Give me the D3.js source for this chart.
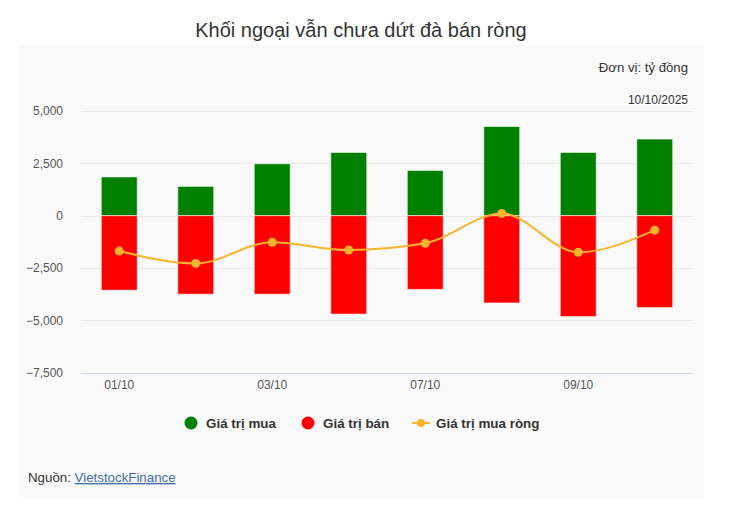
<!DOCTYPE html>
<html>
<head>
<meta charset="utf-8">
<script src="https://cdn.jsdelivr.net/npm/d3@7"></script>
<style>
  html, body { margin: 0; padding: 0; background: #ffffff; }
  svg { display: block; font-family: "Liberation Sans", Arial, sans-serif; }
</style>
</head>
<body>
<svg id="chart" width="743" height="511"></svg>
<script>
// ---- data ----
const categories = ["01/10", "02/10", "03/10", "06/10", "07/10", "08/10", "09/10", "10/10"];
const buyValues  = [1850, 1400, 2480, 3020, 2160, 4260, 3020, 3660];
const sellValues = [-3560, -3750, -3750, -4700, -3520, -4170, -4820, -4390];
const netValues  = [-1690, -2280, -1270, -1640, -1320, 110, -1750, -690];
const yTicks     = [5000, 2500, 0, -2500, -5000, -7500];
const xTickLabels = ["01/10", "03/10", "07/10", "09/10"];
const seriesNames = ["Giá trị mua", "Giá trị bán", "Giá trị mua ròng"];

const colors = { buy: "#008000", sell: "#ff0000", net: "#f7b52c" };

const svg = d3.select("#chart");

// panel background
svg.append("rect").attr("x", 18).attr("y", 45).attr("width", 686).attr("height", 452).attr("fill", "#f9f9f9");

// title
svg.append("text").attr("x", 361).attr("y", 37).attr("text-anchor", "middle")
  .attr("font-size", 20).attr("fill", "#333").text("Khối ngoại vẫn chưa dứt đà bán ròng");

svg.append("text").attr("x", 688).attr("y", 72).attr("text-anchor", "end")
  .attr("font-size", 13.2).attr("fill", "#333").text("Đơn vị: tỷ đồng");
svg.append("text").attr("x", 688).attr("y", 104).attr("text-anchor", "end")
  .attr("font-size", 12).attr("fill", "#333").text("10/10/2025");

const left = 81, right = 693;
const x = d3.scaleBand().domain(categories).range([left, right]).paddingInner(0.53).paddingOuter(0.265);
const y = d3.scaleLinear().domain([-7500, 5000]).range([372.7, 111]);

// grid
svg.append("g").selectAll("line").data(yTicks).join("line")
  .attr("x1", left).attr("x2", right)
  .attr("y1", d => Math.round(y(d)) + 0.5).attr("y2", d => Math.round(y(d)) + 0.5)
  .attr("stroke", d => d === -7500 ? "#ccd6eb" : "#e6e6e6").attr("stroke-width", 1);

// y axis labels
const yAxis = d3.axisLeft(y).tickValues(yTicks).tickSize(0).tickPadding(0).tickFormat(d3.format(","));
const yg = svg.append("g").attr("transform", `translate(63,0)`).call(yAxis);
yg.select(".domain").remove();
yg.selectAll("text").attr("font-size", 12).attr("fill", "#555").attr("font-family", "Liberation Sans, Arial, sans-serif");

// x axis labels
const xAxis = d3.axisBottom(x).tickValues(categories.filter(c => xTickLabels.includes(c))).tickSize(0).tickPadding(0);
const xg = svg.append("g").attr("transform", `translate(0,380)`).call(xAxis);
xg.select(".domain").remove();
xg.selectAll("text").attr("font-size", 12).attr("fill", "#555").attr("dy", "0.71em").attr("font-family", "Liberation Sans, Arial, sans-serif");

// bars
const bw = x.bandwidth();
svg.append("g").selectAll("rect").data(categories).join("rect")
  .attr("x", d => x(d)).attr("width", bw)
  .attr("y", (d, i) => y(buyValues[i])).attr("height", (d, i) => y(0) - y(buyValues[i]))
  .attr("fill", colors.buy).attr("stroke", "#ffffff").attr("stroke-width", 1).attr("stroke-opacity", 0.6);
svg.append("g").selectAll("rect").data(categories).join("rect")
  .attr("x", d => x(d)).attr("width", bw)
  .attr("y", y(0)).attr("height", (d, i) => y(sellValues[i]) - y(0))
  .attr("fill", colors.sell).attr("stroke", "#ffffff").attr("stroke-width", 1).attr("stroke-opacity", 0.6);

// net line
const cx = d => x(d) + bw / 2;
const line = d3.line().x((d, i) => cx(categories[i])).y(d => y(d)).curve(d3.curveMonotoneX);
svg.append("path").datum(netValues).attr("d", line).attr("fill", "none")
  .attr("stroke", colors.net).attr("stroke-width", 2);
svg.append("g").selectAll("circle").data(netValues).join("circle")
  .attr("cx", (d, i) => cx(categories[i])).attr("cy", d => y(d)).attr("r", 4.5).attr("fill", colors.net);

// legend
const lg = svg.append("g").attr("font-size", 13.4).attr("font-weight", "bold").attr("fill", "#333");
lg.append("circle").attr("cx", 191).attr("cy", 423).attr("r", 6.5).attr("fill", colors.buy);
lg.append("text").attr("x", 206).attr("y", 428).text(seriesNames[0]);
lg.append("circle").attr("cx", 308).attr("cy", 423).attr("r", 6.5).attr("fill", colors.sell);
lg.append("text").attr("x", 323).attr("y", 428).text(seriesNames[1]);
lg.append("line").attr("x1", 412).attr("x2", 430).attr("y1", 423).attr("y2", 423).attr("stroke", colors.net).attr("stroke-width", 2);
lg.append("circle").attr("cx", 421).attr("cy", 423).attr("r", 4).attr("fill", colors.net);
lg.append("text").attr("x", 436).attr("y", 428).text(seriesNames[2]);

// source
const src = svg.append("text").attr("x", 28).attr("y", 482).attr("font-size", 13.3).attr("fill", "#333");
src.append("tspan").text("Nguồn: ");
src.append("tspan").attr("fill", "#3b6fa3").attr("text-decoration", "underline").text("VietstockFinance");
</script>
</body>
</html>
